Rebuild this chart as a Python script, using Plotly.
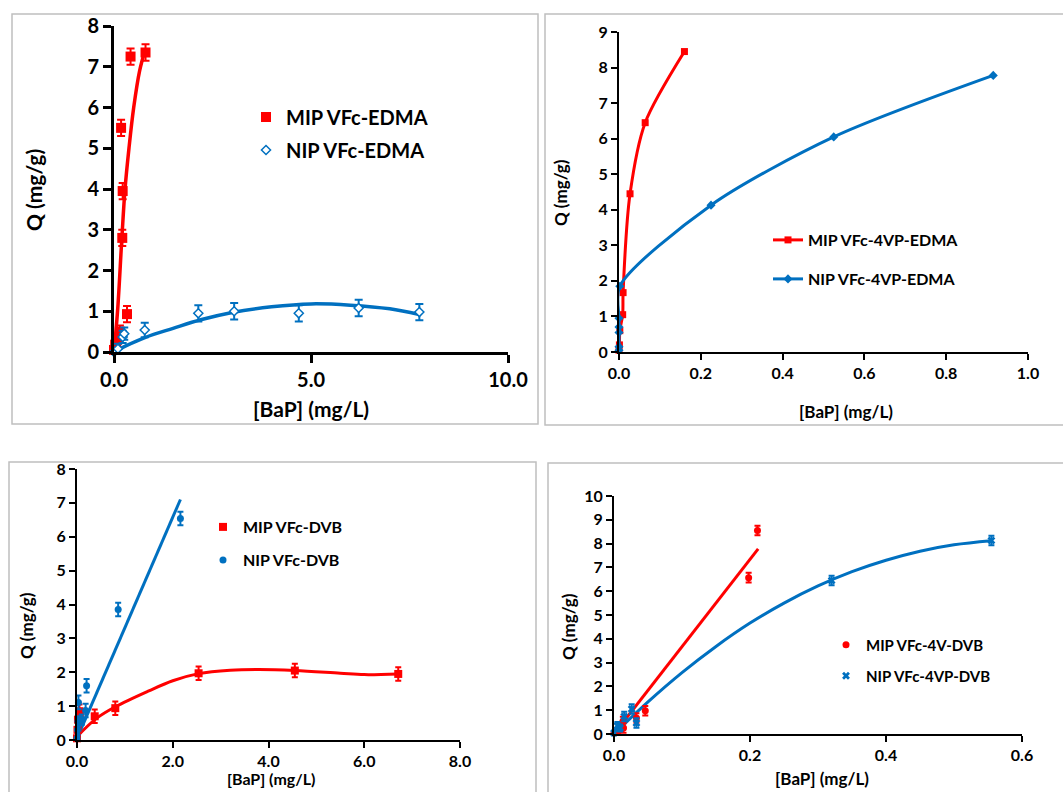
import plotly.graph_objects as go

RED = "#ff0000"
BLUE = "#0070c0"
FONT = "Lato"

# ---------------- Panel A : VFc-EDMA ----------------
a_mip_x = [0.00, 0.03, 0.08, 0.15, 0.33, 0.21, 0.22, 0.18, 0.42, 0.80]
a_mip_y = [0.05, 0.18, 0.30, 0.50, 0.93, 2.80, 3.95, 5.50, 7.25, 7.35]
a_mip_err = [0.12, 0.12, 0.15, 0.15, 0.20, 0.20, 0.20, 0.20, 0.20, 0.20]
a_nip_x = [0.00, 0.10, 0.22, 0.26, 0.78, 2.14, 3.05, 4.69, 6.21, 7.75]
a_nip_y = [0.00, 0.08, 0.37, 0.45, 0.54, 0.95, 1.00, 0.95, 1.08, 0.98]
a_nip_err = [0.10, 0.12, 0.15, 0.15, 0.18, 0.20, 0.20, 0.20, 0.20, 0.20]
a_mip_fit_x = [0.0, 0.09, 0.20, 0.28, 0.38, 0.50, 0.65, 0.80]
a_mip_fit_y = [0.0, 1.00, 2.80, 4.00, 5.00, 6.00, 6.90, 7.45]
a_nip_fit_x = [0.0, 0.3, 0.8, 1.5, 2.2, 3.0, 4.0, 5.0, 6.0, 7.0, 7.75]
a_nip_fit_y = [0.0, 0.15, 0.36, 0.58, 0.79, 0.97, 1.11, 1.18, 1.15, 1.06, 0.92]

# ---------------- Panel B : VFc-4VP-EDMA ----------------
b_mip_x = [0.000, 0.001, 0.002, 0.009, 0.010, 0.027, 0.064, 0.160]
b_mip_y = [0.05, 0.20, 0.60, 1.05, 1.67, 4.45, 6.45, 8.45]
b_nip_x = [0.000, 0.000, 0.000, 0.000, 0.000, 0.002, 0.225, 0.525, 0.915]
b_nip_y = [0.05, 0.15, 0.55, 0.70, 0.95, 1.85, 4.13, 6.05, 7.78]

# ---------------- Panel C : VFc-DVB ----------------
c_mip_x = [0.00, 0.01, 0.02, 0.05, 0.06, 0.37, 0.80, 2.54, 4.55, 6.71]
c_mip_y = [0.05, 0.30, 0.60, 0.85, 0.70, 0.70, 0.94, 1.97, 2.05, 1.95]
c_mip_err = [0.15, 0.15, 0.15, 0.20, 0.20, 0.20, 0.20, 0.20, 0.20, 0.20]
c_nip_x = [0.00, 0.01, 0.02, 0.03, 0.10, 0.18, 0.20, 0.86, 2.16]
c_nip_y = [0.05, 0.30, 0.55, 1.11, 0.60, 0.87, 1.60, 3.85, 6.54]
c_nip_err = [0.15, 0.15, 0.15, 0.20, 0.15, 0.20, 0.20, 0.20, 0.20]
c_mip_fit_x = [0.0, 0.4, 0.8, 1.5, 2.0, 2.54, 3.2, 3.8, 4.55, 5.5, 6.0, 6.71]
c_mip_fit_y = [0.10, 0.63, 0.98, 1.45, 1.75, 1.96, 2.06, 2.08, 2.05, 1.97, 1.93, 1.95]
c_nip_fit_x = [0.0, 2.16]
c_nip_fit_y = [0.05, 7.10]

# ---------------- Panel D : VFc-4VP-DVB ----------------
d_mip_x = [0.000, 0.006, 0.013, 0.014, 0.033, 0.046, 0.198, 0.211]
d_mip_y = [0.04, 0.10, 0.53, 0.25, 0.67, 0.98, 6.57, 8.55]
d_mip_err = [0.15, 0.15, 0.20, 0.20, 0.20, 0.20, 0.20, 0.20]
d_nip_x = [0.000, 0.005, 0.009, 0.015, 0.026, 0.033, 0.320, 0.555]
d_nip_y = [0.04, 0.35, 0.25, 0.74, 1.05, 0.46, 6.45, 8.13]
d_nip_err = [0.15, 0.15, 0.15, 0.20, 0.20, 0.20, 0.20, 0.20]
d_mip_fit_x = [0.0, 0.212]
d_mip_fit_y = [0.0, 7.78]
d_nip_fit_x = [0.0, 0.05, 0.10, 0.15, 0.20, 0.25, 0.30, 0.35, 0.40, 0.45, 0.50, 0.555]
d_nip_fit_y = [0.0, 1.35, 2.58, 3.68, 4.66, 5.50, 6.22, 6.82, 7.30, 7.68, 7.95, 8.12]

labels = {
    "a": ("MIP VFc-EDMA", "NIP VFc-EDMA"),
    "b": ("MIP VFc-4VP-EDMA", "NIP VFc-4VP-EDMA"),
    "c": ("MIP VFc-DVB", "NIP VFc-DVB"),
    "d": ("MIP VFc-4V-DVB", "NIP VFc-4VP-DVB"),
}

W, H = 1063, 792


def fx(p):
    return p / W


def fy(p):
    return 1 - p / H


fig = go.Figure()


def err(arr, color, w=3):
    return dict(type="data", array=arr, color=color, thickness=2, width=w)


def pts(x, y, e, color, name, xa, ya, legend, marker, w=3):
    fig.add_trace(go.Scatter(
        x=x, y=y, mode="markers", name=name, xaxis=xa, yaxis=ya,
        error_y=err(e, color, w) if e is not None else None,
        marker=marker, cliponaxis=False, legend=legend, showlegend=True))


def fit(x, y, color, xa, ya, width=3, shape="spline"):
    fig.add_trace(go.Scatter(
        x=x, y=y, mode="lines", xaxis=xa, yaxis=ya, showlegend=False,
        line=dict(color=color, width=width, shape=shape, smoothing=1.0),
        cliponaxis=False, hoverinfo="skip"))


# Panel A
fit(a_mip_fit_x, a_mip_fit_y, RED, "x", "y", 3.5)
fit(a_nip_fit_x, a_nip_fit_y, BLUE, "x", "y", 3.5)
pts(a_mip_x, a_mip_y, a_mip_err, RED, labels["a"][0], "x", "y", "legend",
    dict(symbol="square", size=10, color=RED), 4)
pts(a_nip_x, a_nip_y, a_nip_err, BLUE, labels["a"][1], "x", "y", "legend2",
    dict(symbol="diamond", size=7, color="white", line=dict(color=BLUE, width=1.5)), 4)

# Panel B
fig.add_trace(go.Scatter(
    x=b_mip_x, y=b_mip_y, mode="lines+markers", name=labels["b"][0], xaxis="x2", yaxis="y2",
    line=dict(color=RED, width=3, shape="spline", smoothing=0.8),
    marker=dict(symbol="square", size=7, color=RED), cliponaxis=False, legend="legend3"))
fig.add_trace(go.Scatter(
    x=b_nip_x, y=b_nip_y, mode="lines+markers", name=labels["b"][1], xaxis="x2", yaxis="y2",
    line=dict(color=BLUE, width=3, shape="spline", smoothing=0.8),
    marker=dict(symbol="diamond", size=7, color=BLUE), cliponaxis=False, legend="legend4"))

# Panel C
fit(c_mip_fit_x, c_mip_fit_y, RED, "x3", "y3", 3)
fit(c_nip_fit_x, c_nip_fit_y, BLUE, "x3", "y3", 3, "linear")
pts(c_mip_x, c_mip_y, c_mip_err, RED, labels["c"][0], "x3", "y3", "legend5",
    dict(symbol="square", size=8, color=RED))
pts(c_nip_x, c_nip_y, c_nip_err, BLUE, labels["c"][1], "x3", "y3", "legend6",
    dict(symbol="circle", size=7, color=BLUE))

# Panel D
fit(d_mip_fit_x, d_mip_fit_y, RED, "x4", "y4", 3, "linear")
fit(d_nip_fit_x, d_nip_fit_y, BLUE, "x4", "y4", 3)
pts(d_mip_x, d_mip_y, d_mip_err, RED, labels["d"][0], "x4", "y4", "legend7",
    dict(symbol="circle", size=7, color=RED))
pts(d_nip_x, d_nip_y, d_nip_err, BLUE, labels["d"][1], "x4", "y4", "legend8",
    dict(symbol="x", size=7, color=BLUE))

# ---------------- layout ----------------
panels = {
    # (x0px, x1px, ytop px, ybottom px)
    "a": (114, 508, 26, 352),
    "b": (619, 1028, 32, 352),
    "c": (77, 460, 469, 740),
    "d": (614, 1022, 496, 734),
}


def xdom(k):
    p = panels[k]
    return [fx(p[0]), fx(p[1])]


def ydom(k):
    p = panels[k]
    return [fy(p[3]), fy(p[2])]


def axis(dom, rng, dtick, fmt, size, lw, tl, anchor):
    return dict(domain=dom, range=rng, dtick=dtick, tick0=0, tickformat=fmt,
                showline=True, linecolor="black", linewidth=lw, ticks="outside",
                ticklen=tl, tickwidth=lw, tickcolor="black", showgrid=False,
                zeroline=False, anchor=anchor, fixedrange=True, automargin=False,
                tickfont=dict(family=FONT, size=size, color="black", weight=700))


layout = dict(
    width=W, height=H, margin=dict(l=0, r=0, t=0, b=0, autoexpand=False),
    paper_bgcolor="white", plot_bgcolor="white",
    xaxis=axis(xdom("a"), [0, 10], 5, ".1f", 20, 3, 8, "y"),
    yaxis=axis(ydom("a"), [0, 8], 1, "d", 20, 3, 8, "x"),
    xaxis2=axis(xdom("b"), [0, 1], 0.2, ".1f", 16, 2, 6, "y2"),
    yaxis2=axis(ydom("b"), [0, 9], 1, "d", 16, 2, 6, "x2"),
    xaxis3=axis(xdom("c"), [0, 8], 2, ".1f", 16, 2, 6, "y3"),
    yaxis3=axis(ydom("c"), [0, 8], 1, "d", 16, 2, 6, "x3"),
    xaxis4=axis(xdom("d"), [0, 0.6], 0.2, ".1f", 16, 2, 6, "y4"),
    yaxis4=axis(ydom("d"), [0, 10], 1, "d", 16, 2, 6, "x4"),
)
# inward half of the crossing ticks on panel A's x axis
layout["xaxis5"] = dict(overlaying="x", anchor="y", range=[0, 10], dtick=5, tick0=0,
                        ticks="inside", ticklen=8, tickwidth=3, tickcolor="black",
                        showticklabels=False, showline=False, showgrid=False,
                        zeroline=False, fixedrange=True)


def leg(text_x, yc, size):
    return dict(x=fx(text_x - 40), y=fy(yc), xanchor="left", yanchor="middle",
                bgcolor="rgba(0,0,0,0)", borderwidth=0, itemwidth=30,
                font=dict(family=FONT, size=size, color="black", weight=700))


layout["legend"] = leg(286, 117, 20)
layout["legend2"] = leg(286, 150, 20)
layout["legend3"] = leg(808, 240, 16)
layout["legend4"] = leg(808, 279, 16)
layout["legend5"] = leg(243, 527, 16)
layout["legend6"] = leg(243, 560, 16)
layout["legend7"] = leg(866, 645, 15)
layout["legend8"] = leg(866, 676, 15)

# panel frames
frames = [(12, 14, 538, 424), (545, 14, 1075, 425), (9, 462, 536, 800), (548, 463, 1075, 800)]
layout["shapes"] = [dict(type="rect", xref="paper", yref="paper",
                         x0=fx(a), y0=fy(d), x1=fx(c), y1=fy(b),
                         line=dict(color="#bfbfbf", width=1.5), layer="below")
                    for a, b, c, d in frames]


def title(text, x, y, size, angle=0):
    return dict(text=text, x=fx(x), y=fy(y), xref="paper", yref="paper",
                showarrow=False, textangle=angle, xanchor="center", yanchor="middle",
                font=dict(family=FONT, size=size, color="black", weight=700))


layout["annotations"] = [
    title("Q (mg/g)", 34, 190, 21, -90),
    title("[BaP] (mg/L)", 311, 408, 21),
    title("Q (mg/g)", 560, 193, 17, -90),
    title("[BaP] (mg/L)", 846, 411, 17),
    title("Q (mg/g)", 26, 626, 17, -90),
    title("[BaP] (mg/L)", 271, 778, 16),
    title("Q (mg/g)", 568, 627, 17, -90),
    title("[BaP] (mg/L)", 822, 778, 17),
]

fig.update_layout(**layout)
fig.write_html("out.html", config={"displayModeBar": False},
               post_script="document.body.style.margin='0';document.body.style.overflow='hidden';")
